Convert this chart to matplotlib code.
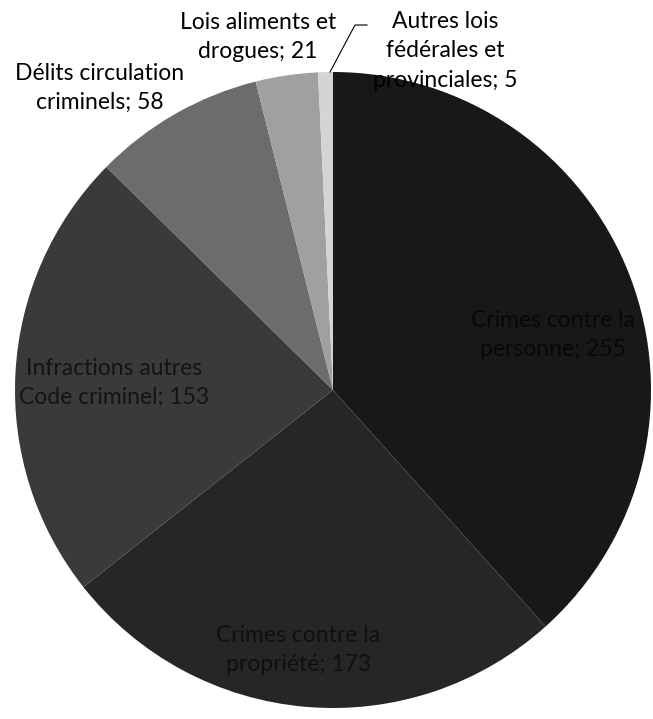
import numpy as np
import matplotlib
matplotlib.use('Agg')
import matplotlib.pyplot as plt

# categories, in drawing order (clockwise from 12 o'clock)
categories = ['Crimes contre la\npersonne', 'Crimes contre la\npropriété',
              'Infractions autres\nCode criminel', 'Délits circulation\ncriminels',
              'Lois aliments et\ndrogues', 'Autres lois\nfédérales et\nprovinciales']
values = [255, 173, 153, 58, 21, 5]
colors = ['#181818', '#262626', '#3a3a3a', '#6c6c6c', '#a0a0a0', '#d4d4d4']
text_colors = ['#080808', '#101010', '#141414', 'black', 'black', 'black']

W, H = 653, 719
cx, cy, R = 333, 390, 318  # pie centre / radius in pixels


def px(x, y):
    # pixel position -> data units (radius = 1)
    return (x - cx) / R, (cy - y) / R


fig = plt.figure(figsize=(W / 100, H / 100), dpi=100)
ax = fig.add_axes([0, 0, 1, 1])
ax.pie(values, colors=colors, startangle=90, counterclock=False,
       radius=1, center=(0, 0), wedgeprops=dict(linewidth=0))
ax.set_xlim(px(0, 0)[0], px(W, 0)[0])
ax.set_ylim(px(0, H)[1], px(0, 0)[1])
ax.axis('off')

labels = [f'{c}; {v}' for c, v in zip(categories, values)]
# label anchor positions (pixels)
label_pos = [(553, 335), (298, 650), (114, 383), (100, 88), (258, 37), (445, 51)]
for lab, (x, y), tc in zip(labels, label_pos, text_colors):
    ax.text(*px(x, y), lab, ha='center', va='center', fontsize=16.5,
            family=['Lato', 'DejaVu Sans'], color=tc, linespacing=1.5)

# leader line for the smallest slice
lx, ly = zip(px(367, 25), px(355, 25), px(330, 72))
ax.plot(lx, ly, color='black', linewidth=0.8)

fig.savefig('out.png', dpi=100)
